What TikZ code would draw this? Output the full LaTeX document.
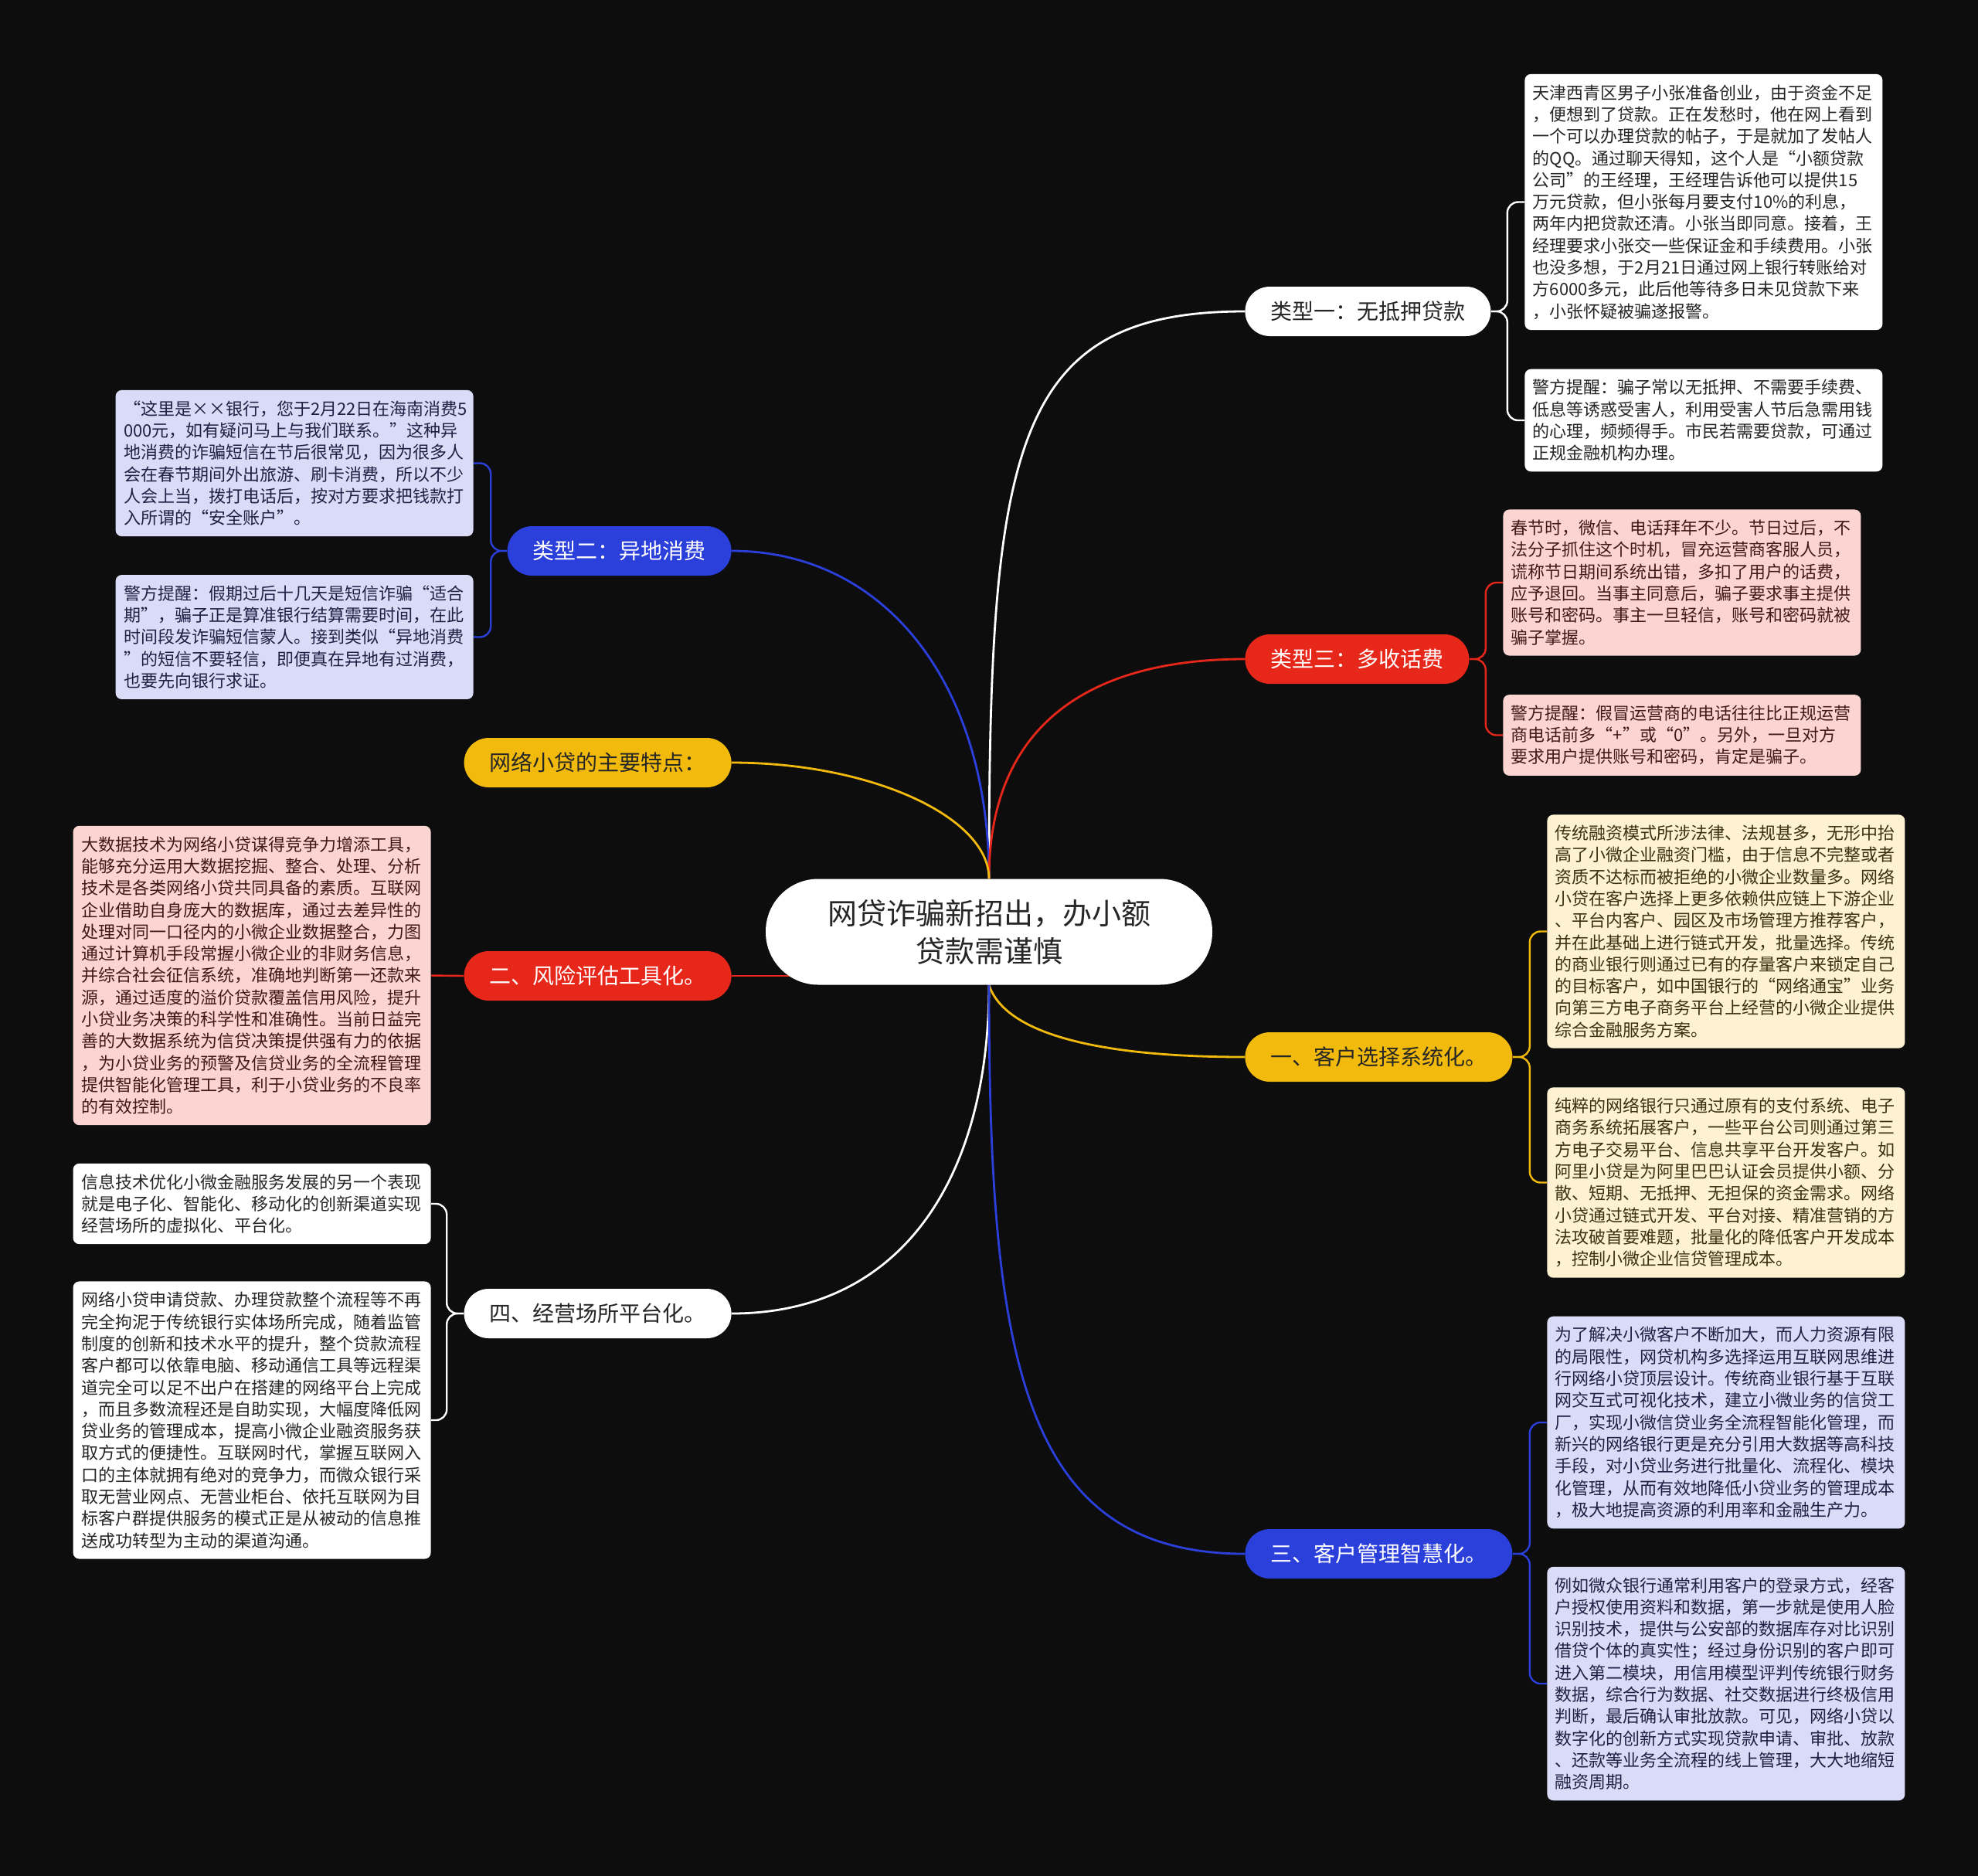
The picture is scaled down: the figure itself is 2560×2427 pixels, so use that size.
\documentclass[tikz,border=0pt]{standalone}
\usepackage{fontspec}
\setmainfont{Noto Sans CJK SC}
\usetikzlibrary{calc}

\definecolor{bgdark}{HTML}{0D0D0D}
\definecolor{cblue}{HTML}{2B3FDB}
\definecolor{cred}{HTML}{E8271B}
\definecolor{cyellow}{HTML}{F1BA0C}
\definecolor{cink}{HTML}{262626}
\definecolor{pinkfill}{HTML}{FBD5D2}
\definecolor{pinkink}{HTML}{401A17}
\definecolor{creamfill}{HTML}{FEF2D2}
\definecolor{creamink}{HTML}{3A3212}
\definecolor{lavfill}{HTML}{D9DBF7}
\definecolor{lavink}{HTML}{1F2044}

\newcommand{\rootfont}{\fontsize{19}{24.5}\selectfont}
\newcommand{\pillfont}{\fontsize{14}{16}\selectfont}
\newcommand{\leaffont}{\fontsize{11}{14.15}\selectfont}

\tikzset{
  root/.style={fill=white, text=cink, rounded corners=34pt, minimum width=289pt,
    minimum height=68.5pt, align=center, font=\rootfont},
  pill/.style={rounded corners=16pt, minimum height=32pt, inner xsep=16.5pt,
    inner ysep=0pt, font=\pillfont},
  leaf/.style={rounded corners=4pt, inner xsep=5.25pt, inner ysep=6.8pt,
    text width=221pt, align=left, font=\leaffont},
  whiteleaf/.style={leaf, fill=white, text=cink},
  pinkleaf/.style={leaf, fill=pinkfill, text=pinkink},
  creamleaf/.style={leaf, fill=creamfill, text=creamink},
  lavleaf/.style={leaf, fill=lavfill, text=lavink},
  mainline/.style={line width=1.4pt},
  leafline/.style={line width=1.2pt, rounded corners=7pt}
}

\pgfdeclarelayer{back}
\pgfsetlayers{back,main}

\begin{document}
\begin{tikzpicture}[x=0.5pt,y=-0.5pt]
  % canvas
  \useasboundingbox (0,0) rectangle (2560,2427);
  \begin{pgfonlayer}{back}
    \fill[bgdark] (-20,-20) rectangle (2580,2447);
  \end{pgfonlayer}

  % centre topic
  \node[root] (root) at (1280,1206) {网贷诈骗新招出，办小额\\贷款需谨慎};

  % right branches
  \node[pill, fill=white, text=cink, anchor=west] (k1) at (1611,403) {类型一：无抵押贷款};
  \node[pill, fill=cred, text=white, anchor=west] (k3) at (1611,853) {类型三：多收话费};
  \node[pill, fill=cyellow, text=cink, anchor=west] (s1) at (1611,1368) {一、客户选择系统化。};
  \node[pill, fill=cblue, text=white, anchor=west] (s3) at (1611,2011) {三、客户管理智慧化。};

  % left branches
  \node[pill, fill=cblue, text=white, anchor=east] (k2) at (947,713) {类型二：异地消费};
  \node[pill, fill=cyellow, text=cink, anchor=east] (feat) at (947,987) {网络小贷的主要特点：};
  \node[pill, fill=cred, text=white, anchor=east] (s2) at (947,1263) {二、风险评估工具化。};
  \node[pill, fill=white, text=cink, anchor=east] (s4) at (947,1700) {四、经营场所平台化。};

  % type one
  \node[whiteleaf, anchor=west] (r1a) at (1973,261.5) {天津西青区男子小张准备创业，由于资金不足\\
，便想到了贷款。正在发愁时，他在网上看到\\
一个可以办理贷款的帖子，于是就加了发帖人\\
的QQ。通过聊天得知，这个人是“小额贷款\\
公司”的王经理，王经理告诉他可以提供15\\
万元贷款，但小张每月要支付10\%的利息，\\
两年内把贷款还清。小张当即同意。接着，王\\
经理要求小张交一些保证金和手续费用。小张\\
也没多想，于2月21日通过网上银行转账给对\\
方6000多元，此后他等待多日未见贷款下来\\
，小张怀疑被骗遂报警。};
  \node[whiteleaf, anchor=west] (r1b) at (1973,544) {警方提醒：骗子常以无抵押、不需要手续费、\\
低息等诱惑受害人，利用受害人节后急需用钱\\
的心理，频频得手。市民若需要贷款，可通过\\
正规金融机构办理。};

  % type three
  \node[pinkleaf, anchor=west] (r3a) at (1945,754) {春节时，微信、电话拜年不少。节日过后，不\\
法分子抓住这个时机，冒充运营商客服人员，\\
谎称节日期间系统出错，多扣了用户的话费，\\
应予退回。当事主同意后，骗子要求事主提供\\
账号和密码。事主一旦轻信，账号和密码就被\\
骗子掌握。};
  \node[pinkleaf, anchor=west] (r3b) at (1945,951.5) {警方提醒：假冒运营商的电话往往比正规运营\\
商电话前多“+”或“0”。另外，一旦对方\\
要求用户提供账号和密码，肯定是骗子。};

  % one
  \node[creamleaf, anchor=west] (y1a) at (2002,1205.5) {传统融资模式所涉法律、法规甚多，无形中抬\\
高了小微企业融资门槛，由于信息不完整或者\\
资质不达标而被拒绝的小微企业数量多。网络\\
小贷在客户选择上更多依赖供应链上下游企业\\
、平台内客户、园区及市场管理方推荐客户，\\
并在此基础上进行链式开发，批量选择。传统\\
的商业银行则通过已有的存量客户来锁定自己\\
的目标客户，如中国银行的“网络通宝”业务\\
向第三方电子商务平台上经营的小微企业提供\\
综合金融服务方案。};
  \node[creamleaf, anchor=west] (y1b) at (2002,1530.5) {纯粹的网络银行只通过原有的支付系统、电子\\
商务系统拓展客户，一些平台公司则通过第三\\
方电子交易平台、信息共享平台开发客户。如\\
阿里小贷是为阿里巴巴认证会员提供小额、分\\
散、短期、无抵押、无担保的资金需求。网络\\
小贷通过链式开发、平台对接、精准营销的方\\
法攻破首要难题，批量化的降低客户开发成本\\
，控制小微企业信贷管理成本。};

  % three
  \node[lavleaf, anchor=west] (b3a) at (2002,1841) {为了解决小微客户不断加大，而人力资源有限\\
的局限性，网贷机构多选择运用互联网思维进\\
行网络小贷顶层设计。传统商业银行基于互联\\
网交互式可视化技术，建立小微业务的信贷工\\
厂，实现小微信贷业务全流程智能化管理，而\\
新兴的网络银行更是充分引用大数据等高科技\\
手段，对小贷业务进行批量化、流程化、模块\\
化管理，从而有效地降低小贷业务的管理成本\\
，极大地提高资源的利用率和金融生产力。};
  \node[lavleaf, anchor=west] (b3b) at (2002,2179) {例如微众银行通常利用客户的登录方式，经客\\
户授权使用资料和数据，第一步就是使用人脸\\
识别技术，提供与公安部的数据库存对比识别\\
借贷个体的真实性；经过身份识别的客户即可\\
进入第二模块，用信用模型评判传统银行财务\\
数据，综合行为数据、社交数据进行终极信用\\
判断，最后确认审批放款。可见，网络小贷以\\
数字化的创新方式实现贷款申请、审批、放款\\
、还款等业务全流程的线上管理，大大地缩短\\
融资周期。};

  % type two
  \node[lavleaf, anchor=east] (l2a) at (613,599.5) {“这里是××银行，您于2月22日在海南消费5\\
000元，如有疑问马上与我们联系。”这种异\\
地消费的诈骗短信在节后很常见，因为很多人\\
会在春节期间外出旅游、刷卡消费，所以不少\\
人会上当，拨打电话后，按对方要求把钱款打\\
入所谓的“安全账户”。};
  \node[lavleaf, anchor=east] (l2b) at (613,824.5) {警方提醒：假期过后十几天是短信诈骗“适合\\
期”，骗子正是算准银行结算需要时间，在此\\
时间段发诈骗短信蒙人。接到类似“异地消费\\
”的短信不要轻信，即便真在异地有过消费，\\
也要先向银行求证。};

  % two
  \node[pinkleaf, anchor=east] (l2c) at (558,1262.5) {大数据技术为网络小贷谋得竞争力增添工具，\\
能够充分运用大数据挖掘、整合、处理、分析\\
技术是各类网络小贷共同具备的素质。互联网\\
企业借助自身庞大的数据库，通过去差异性的\\
处理对同一口径内的小微企业数据整合，力图\\
通过计算机手段常握小微企业的非财务信息，\\
并综合社会征信系统，准确地判断第一还款来\\
源，通过适度的溢价贷款覆盖信用风险，提升\\
小贷业务决策的科学性和准确性。当前日益完\\
善的大数据系统为信贷决策提供强有力的依据\\
，为小贷业务的预警及信贷业务的全流程管理\\
提供智能化管理工具，利于小贷业务的不良率\\
的有效控制。};

  % four
  \node[whiteleaf, anchor=east] (l4a) at (558,1558) {信息技术优化小微金融服务发展的另一个表现\\
就是电子化、智能化、移动化的创新渠道实现\\
经营场所的虚拟化、平台化。};
  \node[whiteleaf, anchor=east] (l4b) at (558,1838) {网络小贷申请贷款、办理贷款整个流程等不再\\
完全拘泥于传统银行实体场所完成，随着监管\\
制度的创新和技术水平的提升，整个贷款流程\\
客户都可以依靠电脑、移动通信工具等远程渠\\
道完全可以足不出户在搭建的网络平台上完成\\
，而且多数流程还是自助实现，大幅度降低网\\
贷业务的管理成本，提高小微企业融资服务获\\
取方式的便捷性。互联网时代，掌握互联网入\\
口的主体就拥有绝对的竞争力，而微众银行采\\
取无营业网点、无营业柜台、依托互联网为目\\
标客户群提供服务的模式正是从被动的信息推\\
送成功转型为主动的渠道沟通。};

  \begin{pgfonlayer}{back}
    % centre to branches
    \draw[mainline, white] (root.north) .. controls +(0,-560) and +(-300,0) .. (k1.west);
    \draw[mainline, cblue] (root.north) .. controls +(0,-250) and +(200,0) .. (k2.east);
    \draw[mainline, cred] (root.north) .. controls +(0,-200) and +(-200,0) .. (k3.west);
    \draw[mainline, cyellow] (root.north) .. controls +(0,-80) and +(180,0) .. (feat.east);
    \draw[mainline, cred] (s2.east) -- (s2.east -| root.center);
    \draw[mainline, cyellow] (root.south) .. controls +(20,60) and +(-200,0) .. (s1.west);
    \draw[mainline, white] (root.south) .. controls +(0,250) and +(220,0) .. (s4.east);
    \draw[mainline, cblue] (root.south) .. controls +(0,480) and +(-290,0) .. (s3.west);

    % branches to leaves
    \draw[leafline, white] (k1.east) -- ++(21,0) |- (r1a.west);
    \draw[leafline, white] (k1.east) -- ++(21,0) |- (r1b.west);
    \draw[leafline, cred] (k3.east) -- ++(21,0) |- (r3a.west);
    \draw[leafline, cred] (k3.east) -- ++(21,0) |- (r3b.west);
    \draw[leafline, cyellow] (s1.east) -- ++(22,0) |- (y1a.west);
    \draw[leafline, cyellow] (s1.east) -- ++(22,0) |- (y1b.west);
    \draw[leafline, cblue] (s3.east) -- ++(22,0) |- (b3a.west);
    \draw[leafline, cblue] (s3.east) -- ++(22,0) |- (b3b.west);
    \draw[leafline, cblue] (k2.west) -- ++(-21,0) |- (l2a.east);
    \draw[leafline, cblue] (k2.west) -- ++(-21,0) |- (l2b.east);
    \draw[leafline, cred] (s2.west) -- (l2c.east);
    \draw[leafline, white] (s4.west) -- ++(-22,0) |- (l4a.east);
    \draw[leafline, white] (s4.west) -- ++(-22,0) |- (l4b.east);
  \end{pgfonlayer}
\end{tikzpicture}
\end{document}
